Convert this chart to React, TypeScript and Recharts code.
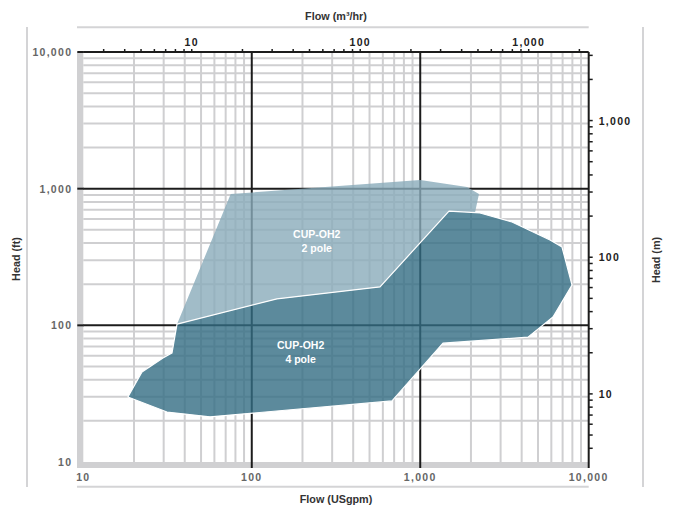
import React from 'react';
import { ComposedChart, XAxis, YAxis, Scatter, ReferenceLine, Label } from 'recharts';

// ---------- data ----------
const flowTicks = [10, 100, 1000, 10000]; // USgpm
const headTicks = [10, 100, 1000, 10000]; // ft
const minorGrid = [20, 30, 40, 50, 60, 70, 80, 90, 200, 300, 400, 500, 600, 700, 800, 900, 2000, 3000, 4000, 5000, 6000, 7000, 8000, 9000];
const majorGrid = [100, 1000];
const flowM3Ticks = [3, 4, 5, 6, 7, 8, 9, 10, 20, 30, 40, 50, 60, 70, 80, 90, 100, 200, 300, 400, 500, 600, 700, 800, 900, 1000, 2000];
const flowM3Labels = [10, 100, 1000];
const headMTicks = [4, 5, 6, 7, 8, 9, 10, 20, 30, 40, 50, 60, 70, 80, 90, 100, 200, 300, 400, 500, 600, 700, 800, 900, 1000, 2000, 3000];
const headMLabels = [10, 100, 1000];
const GPM_PER_M3H = 4.40287;
const FT_PER_M_AXIS = 3.15;

const twoPole = [
  { flow: 36, head: 102 },
  { flow: 75, head: 914 },
  { flow: 1000, head: 1157 },
  { flow: 1895, head: 1029 },
  { flow: 2232, head: 914 },
  { flow: 2113, head: 667 },
  { flow: 1482, head: 686 },
  { flow: 577, head: 191 },
  { flow: 141, head: 156 },
];

const fourPole = [
  { flow: 36, head: 102 },
  { flow: 141, head: 156 },
  { flow: 577, head: 191 },
  { flow: 1482, head: 686 },
  { flow: 2263, head: 664 },
  { flow: 3505, head: 570 },
  { flow: 5891, head: 421 },
  { flow: 6942, head: 374 },
  { flow: 7960, head: 197 },
  { flow: 6137, head: 115 },
  { flow: 4361, head: 82 },
  { flow: 1365, head: 74 },
  { flow: 680, head: 28 },
  { flow: 56.5, head: 21.4 },
  { flow: 31.4, head: 23.2 },
  { flow: 18.4, head: 29.9 },
  { flow: 22.3, head: 45.6 },
  { flow: 29.7, head: 57.7 },
  { flow: 33.6, head: 62.7 },
];

const regionLabels = [
  { flow: 243, head: 412.6, line1: 'CUP-OH2', line2: '2 pole' },
  { flow: 195, head: 63.4, line1: 'CUP-OH2', line2: '4 pole' },
];

// same envelopes in metric units (used by the secondary m³/hr and m axes)
const metricPoints = [...twoPole, ...fourPole].map((d) => ({
  flowM3: d.flow / GPM_PER_M3H,
  headM: d.head / FT_PER_M_AXIS,
}));

// ---------- styles ----------
const FONT = '"Liberation Sans", Arial, Helvetica, sans-serif';
const GRID_GRAY = '#cfcfd1';
const BLACK = '#1c1c1c';
const LIGHT_FILL = '#89abba';
const DARK_FILL = '#336d83';

const fmt = (v: number) => v.toLocaleString('en-US');

const tickTextStyle = {
  fontFamily: FONT,
  fontSize: 10.5,
  fontWeight: 700,
  letterSpacing: 1.3,
};

const LeftTick = (props: any) => {
  const { x, y, payload } = props;
  const v = payload.value;
  return (
    <g>
      {v !== 10 && <line x1={x + 5} x2={x + 11.5} y1={y} y2={y} stroke={BLACK} strokeWidth={2} />}
      <text x={x} y={y} textAnchor="end" dominantBaseline="central" fill="#666" {...tickTextStyle}>
        {fmt(v)}
      </text>
    </g>
  );
};

const BottomTick = (props: any) => {
  const { x, y, payload } = props;
  const v = payload.value;
  return (
    <g>
      {v !== 10 && <line x1={x} x2={x} y1={y - 11} y2={y - 5} stroke={BLACK} strokeWidth={2} />}
      <text x={x} y={y + 3.7} textAnchor="middle" dominantBaseline="central" fill="#666" {...tickTextStyle}>
        {fmt(v)}
      </text>
    </g>
  );
};

const isLabelled = (v: number, list: number[]) => list.some((l) => Math.abs(l - v) / l < 1e-6);

const TopTick = (props: any) => {
  const { x, y, payload } = props;
  const v = payload.value;
  if (!isLabelled(v, flowM3Labels)) return <g />;
  return (
    <text x={x} y={y - 3.3} textAnchor="middle" dominantBaseline="central" fill="#222" {...tickTextStyle}>
      {fmt(v)}
    </text>
  );
};

const RightTick = (props: any) => {
  const { x, y, payload } = props;
  const v = payload.value;
  if (!isLabelled(v, headMLabels)) return <g />;
  return (
    <text x={x} y={y} textAnchor="start" dominantBaseline="central" fill="#222" {...tickTextStyle}>
      {fmt(v)}
    </text>
  );
};

const makePolygon = (fill: string, stroke: string, strokeWidth: number) => (p: any) => {
  const pts: { x: number; y: number }[] = p.points || [];
  if (!pts.length) return <g />;
  const d = pts.map((pt, i) => `${i ? 'L' : 'M'}${pt.x},${pt.y}`).join(' ') + ' Z';
  return <path d={d} fill={fill} fillOpacity={0.8} stroke={stroke} strokeWidth={strokeWidth} strokeLinejoin="round" />;
};

const EmptyShape = () => <g />;

const RegionLabel = (p: any) => {
  const { cx, cy, payload } = p;
  return (
    <text x={cx} y={cy} textAnchor="middle" fill="#ffffff" fontFamily={FONT} fontSize={10.5} fontWeight={700}>
      <tspan x={cx} y={cy - 7} dominantBaseline="central">{payload.line1}</tspan>
      <tspan x={cx} y={cy + 7} dominantBaseline="central">{payload.line2}</tspan>
    </text>
  );
};

const titleStyle = {
  fontFamily: FONT,
  fontSize: 10.8,
  fontWeight: 700,
  fill: '#333',
};

const BottomTitle = (p: any) => {
  const vb = p.viewBox;
  return (
    <text x={vb.x + vb.width / 2} y={499} textAnchor="middle" dominantBaseline="central" {...titleStyle}>
      Flow (USgpm)
    </text>
  );
};
const TopTitle = (p: any) => {
  const vb = p.viewBox;
  return (
    <text x={vb.x + vb.width / 2} y={15.7} textAnchor="middle" dominantBaseline="central" {...titleStyle}>
      Flow (m³/hr)
    </text>
  );
};
const LeftTitle = (p: any) => {
  const vb = p.viewBox;
  const cy = vb.y + vb.height / 2 + 2;
  return (
    <text x={15.7} y={cy} textAnchor="middle" dominantBaseline="central" transform={`rotate(-90 15.7 ${cy})`} {...titleStyle}>
      Head (ft)
    </text>
  );
};
const RightTitle = (p: any) => {
  const vb = p.viewBox;
  const cy = vb.y + vb.height / 2 + 3;
  return (
    <text x={656} y={cy} textAnchor="middle" dominantBaseline="central" transform={`rotate(-90 656 ${cy})`} {...titleStyle}>
      Head (m)
    </text>
  );
};

export default function App() {
  const plotLeft = 83.3;
  const plotRight = 588.7;
  const plotTop = 52;
  const plotBottom = 462;
  return (
    <div style={{ position: 'absolute', left: 0, top: 0, width: 673, height: 506, background: '#fff' }}>
      <svg width={673} height={506} style={{ position: 'absolute', left: 0, top: 0 }}>
        <line x1={27} x2={27} y1={27} y2={487} stroke="#d4d4d6" strokeWidth={2} />
        <line x1={643} x2={643} y1={27} y2={487} stroke="#d4d4d6" strokeWidth={2} />
        <line x1={77} x2={plotRight} y1={27.3} y2={27.3} stroke="#d4d4d6" strokeWidth={2} />
        <line x1={77} x2={plotRight} y1={486.7} y2={486.7} stroke="#d4d4d6" strokeWidth={2} />
        <rect x={77} y={plotTop} width={plotLeft - 77} height={468 - plotTop} fill="#d0d0d2" />
        <rect x={77} y={plotBottom} width={plotRight - 77} height={6} fill="#d0d0d2" />
      </svg>
      <div style={{ position: 'absolute', left: 0, top: 0 }}>
        <ComposedChart width={673} height={506} margin={{ top: 22, right: 24.3, bottom: 14, left: 23.3 }}>
          <XAxis
            dataKey="flow"
            type="number"
            scale="log"
            domain={[10, 10000]}
            allowDataOverflow
            ticks={flowTicks}
            interval={0}
            height={30}
            axisLine={false}
            tickLine={false}
            tickSize={6}
            tickMargin={5}
            tick={<BottomTick />}
          >
            <Label content={<BottomTitle />} />
          </XAxis>
          <XAxis
            xAxisId="top"
            dataKey="flowM3"
            orientation="top"
            type="number"
            scale="log"
            domain={[10 / GPM_PER_M3H, 10000 / GPM_PER_M3H]}
            allowDataOverflow
            ticks={flowM3Ticks}
            interval={0}
            height={30}
            axisLine={{ stroke: BLACK, strokeWidth: 2 }}
            tickLine={{ stroke: BLACK, strokeWidth: 1.5 }}
            tickSize={3}
            tickMargin={4}
            tick={<TopTick />}
          >
            <Label content={<TopTitle />} />
          </XAxis>
          <YAxis
            dataKey="head"
            type="number"
            scale="log"
            domain={[10, 10000]}
            allowDataOverflow
            ticks={headTicks}
            interval={0}
            width={60}
            axisLine={false}
            tickLine={false}
            tickSize={6}
            tickMargin={5}
            tick={<LeftTick />}
          >
            <Label content={<LeftTitle />} />
          </YAxis>
          <YAxis
            yAxisId="right"
            dataKey="headM"
            orientation="right"
            type="number"
            scale="log"
            domain={[10 / FT_PER_M_AXIS, 10000 / FT_PER_M_AXIS]}
            allowDataOverflow
            ticks={headMTicks}
            interval={0}
            width={60}
            axisLine={{ stroke: BLACK, strokeWidth: 2 }}
            tickLine={{ stroke: BLACK, strokeWidth: 1.5 }}
            tickSize={4}
            tickMargin={6}
            tick={<RightTick />}
          >
            <Label content={<RightTitle />} />
          </YAxis>

          {minorGrid.map((v) => (
            <ReferenceLine key={`gx${v}`} x={v} stroke={GRID_GRAY} strokeWidth={2} />
          ))}
          {minorGrid.map((v) => (
            <ReferenceLine key={`gy${v}`} y={v} stroke={GRID_GRAY} strokeWidth={2} />
          ))}
          {majorGrid.map((v) => (
            <ReferenceLine key={`bx${v}`} x={v} stroke={BLACK} strokeWidth={2} />
          ))}
          {majorGrid.map((v) => (
            <ReferenceLine key={`by${v}`} y={v} stroke={BLACK} strokeWidth={2} />
          ))}

          <Scatter
            name="metric"
            data={metricPoints}
            xAxisId="top"
            yAxisId="right"
            isAnimationActive={false}
            shape={EmptyShape}
          />
          <Scatter
            name="CUP-OH2 2 pole"
            data={twoPole}
            isAnimationActive={false}
            shape={EmptyShape}
            line={makePolygon(LIGHT_FILL, 'none', 0)}
          />
          <Scatter
            name="CUP-OH2 4 pole"
            data={fourPole}
            isAnimationActive={false}
            shape={EmptyShape}
            line={makePolygon(DARK_FILL, '#ffffff', 1.2)}
          />
          <Scatter name="labels" data={regionLabels} isAnimationActive={false} shape={RegionLabel} />
        </ComposedChart>
      </div>
    </div>
  );
}
